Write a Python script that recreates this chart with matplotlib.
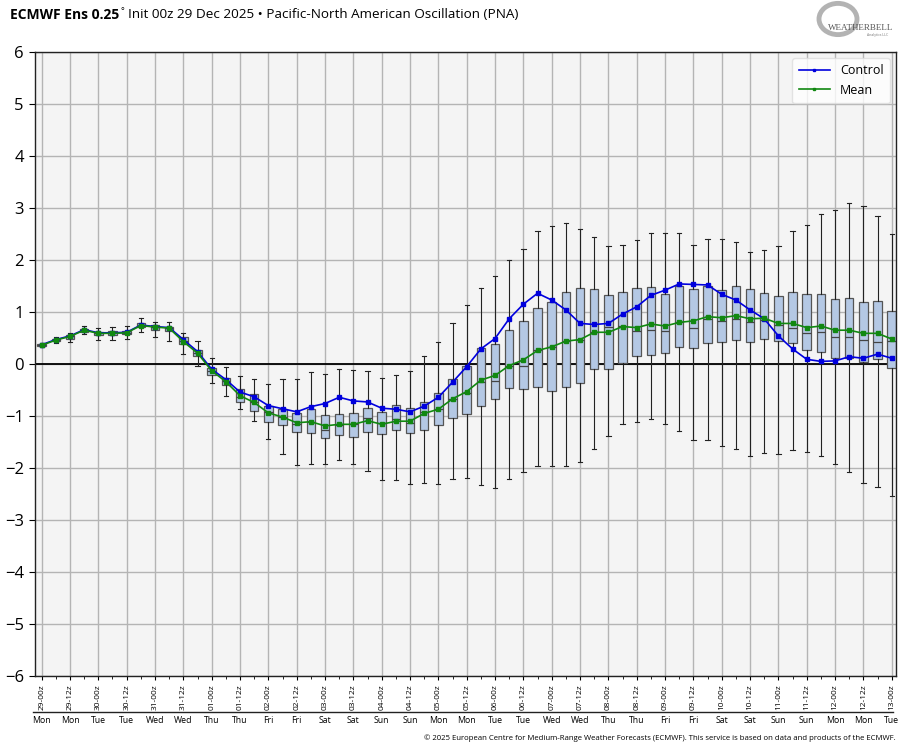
import numpy as np
import matplotlib
matplotlib.use("Agg")
import matplotlib.pyplot as plt
from matplotlib.lines import Line2D
from matplotlib.patches import Circle

# ensemble stats every 6 h from 29-00z to 13-00z
whis_lo = [0.33, 0.41, 0.43, 0.58, 0.47, 0.47, 0.49, 0.61, 0.51, 0.45,
           0.19, -0.04, -0.37, -0.62, -0.87, -1.10, -1.45, -1.73, -1.95, -1.92,
           -1.92, -1.85, -1.92, -2.06, -2.23, -2.23, -2.31, -2.29, -2.31, -2.22,
           -2.20, -2.33, -2.39, -2.22, -2.07, -1.96, -1.97, -1.96, -1.89, -1.64,
           -1.38, -1.16, -1.12, -1.05, -1.16, -1.28, -1.46, -1.46, -1.57, -1.64,
           -1.76, -1.72, -1.74, -1.66, -1.70, -1.76, -1.93, -2.07, -2.29, -2.37,
           -2.53]
q1 = [0.34, 0.44, 0.49, 0.62, 0.56, 0.55, 0.57, 0.71, 0.65, 0.64,
      0.38, 0.15, -0.21, -0.40, -0.74, -0.90, -1.11, -1.18, -1.31, -1.33,
      -1.43, -1.37, -1.41, -1.31, -1.35, -1.27, -1.32, -1.27, -1.18, -1.03,
      -0.97, -0.81, -0.67, -0.47, -0.49, -0.45, -0.52, -0.45, -0.37, -0.10,
      -0.10, 0.01, 0.15, 0.18, 0.22, 0.33, 0.31, 0.40, 0.43, 0.46,
      0.42, 0.49, 0.44, 0.41, 0.26, 0.24, 0.11, 0.11, 0.03, 0.09,
      -0.07]
med = [0.36, 0.46, 0.53, 0.65, 0.59, 0.59, 0.60, 0.74, 0.71, 0.69,
       0.44, 0.21, -0.14, -0.33, -0.63, -0.73, -0.92, -1.02, -1.16, -1.11,
       -1.27, -1.17, -1.16, -1.03, -1.14, -1.06, -1.13, -0.93, -0.87, -0.67,
       -0.56, -0.34, -0.33, -0.03, -0.04, 0.27, 0.33, 0.44, 0.47, 0.61,
       0.72, 0.74, 0.64, 0.65, 0.64, 0.80, 0.70, 0.86, 0.83, 0.87,
       0.80, 0.85, 0.75, 0.70, 0.59, 0.62, 0.52, 0.52, 0.46, 0.43,
       0.44]
q3 = [0.38, 0.48, 0.56, 0.68, 0.62, 0.63, 0.64, 0.78, 0.75, 0.72,
      0.51, 0.27, -0.08, -0.26, -0.49, -0.58, -0.81, -0.86, -0.95, -0.87,
      -0.99, -0.97, -0.95, -0.85, -0.93, -0.78, -0.85, -0.74, -0.56, -0.28,
      -0.04, 0.30, 0.38, 0.65, 0.83, 1.07, 1.20, 1.38, 1.46, 1.44,
      1.33, 1.39, 1.47, 1.49, 1.35, 1.50, 1.44, 1.50, 1.42, 1.50,
      1.44, 1.36, 1.30, 1.38, 1.34, 1.34, 1.25, 1.26, 1.19, 1.21,
      1.01]
whis_hi = [0.40, 0.51, 0.59, 0.73, 0.70, 0.71, 0.73, 0.89, 0.81, 0.80,
           0.59, 0.44, 0.11, -0.05, -0.24, -0.28, -0.38, -0.29, -0.29, -0.16,
           -0.20, -0.10, -0.12, -0.13, -0.26, -0.21, -0.14, 0.16, 0.43, 0.78,
           1.13, 1.47, 1.69, 2.00, 2.22, 2.56, 2.66, 2.71, 2.59, 2.45,
           2.27, 2.28, 2.38, 2.51, 2.51, 2.51, 2.29, 2.40, 2.40, 2.35,
           2.16, 2.19, 2.26, 2.56, 2.67, 2.88, 2.96, 3.09, 3.04, 2.85,
           2.50]
control = [0.37, 0.47, 0.54, 0.66, 0.60, 0.60, 0.61, 0.75, 0.72, 0.70,
           0.47, 0.24, -0.10, -0.30, -0.54, -0.63, -0.80, -0.86, -0.92, -0.82,
           -0.76, -0.64, -0.71, -0.73, -0.85, -0.87, -0.92, -0.81, -0.64, -0.35,
           -0.05, 0.29, 0.49, 0.87, 1.15, 1.36, 1.23, 1.04, 0.78, 0.76,
           0.78, 0.96, 1.10, 1.32, 1.42, 1.54, 1.53, 1.52, 1.34, 1.23,
           1.04, 0.87, 0.54, 0.29, 0.09, 0.05, 0.06, 0.14, 0.11, 0.19,
           0.11]
ens_mean = [0.36, 0.46, 0.53, 0.65, 0.59, 0.59, 0.60, 0.74, 0.71, 0.69,
            0.43, 0.21, -0.13, -0.34, -0.61, -0.74, -0.94, -1.02, -1.13, -1.11,
            -1.19, -1.16, -1.16, -1.09, -1.16, -1.10, -1.10, -0.95, -0.87, -0.67,
            -0.53, -0.31, -0.22, -0.03, 0.08, 0.26, 0.33, 0.44, 0.47, 0.61,
            0.61, 0.72, 0.70, 0.77, 0.73, 0.80, 0.83, 0.91, 0.89, 0.93,
            0.87, 0.88, 0.78, 0.78, 0.70, 0.73, 0.65, 0.65, 0.59, 0.59,
            0.48]

step_labels = ['29-00z', '29-12z', '30-00z', '30-12z', '31-00z', '31-12z',
               '01-00z', '01-12z', '02-00z', '02-12z', '03-00z', '03-12z',
               '04-00z', '04-12z', '05-00z', '05-12z', '06-00z', '06-12z',
               '07-00z', '07-12z', '08-00z', '08-12z', '09-00z', '09-12z',
               '10-00z', '10-12z', '11-00z', '11-12z', '12-00z', '12-12z',
               '13-00z']
day_labels = ['Mon', 'Mon', 'Tue', 'Tue', 'Wed', 'Wed', 'Thu', 'Thu', 'Fri',
              'Fri', 'Sat', 'Sat', 'Sun', 'Sun', 'Mon', 'Mon', 'Tue', 'Tue',
              'Wed', 'Wed', 'Thu', 'Thu', 'Fri', 'Fri', 'Sat', 'Sat', 'Sun',
              'Sun', 'Mon', 'Mon', 'Tue']

plt.rcParams['font.family'] = ['Open Sans', 'DejaVu Sans']

W, H = 913, 750
fig = plt.figure(figsize=(W / 100, H / 100), dpi=100)
ax = fig.add_axes([35 / W, 1 - 676 / H, (896 - 35) / W, 624 / H])
ax.set_facecolor('#f4f4f4')

x = np.arange(len(med))
stats = []
for i in x:
    stats.append({'whislo': whis_lo[i], 'q1': q1[i], 'med': med[i],
                  'q3': q3[i], 'whishi': whis_hi[i], 'fliers': []})

ax.axhline(0, color='black', lw=1.3, zorder=1.5)
ax.bxp(stats, positions=x, widths=0.6, patch_artist=True, showfliers=False,
       boxprops=dict(facecolor='#b4c8e4', edgecolor='#555555', lw=0.9),
       medianprops=dict(color='#444444', lw=0.9),
       whiskerprops=dict(color='#222222', lw=0.8),
       capprops=dict(color='#222222', lw=0.8), capwidths=0.3,
       manage_ticks=False, zorder=2)

ax.plot(x, control, color='#0000dd', lw=1.2, marker='s', ms=2.5,
        label='Control', zorder=3)
ax.plot(x, ens_mean, color='#118811', lw=1.2, marker='s', ms=2.5,
        label='Mean', zorder=3)

ax.set_xlim(-0.47, 60.3)
ax.set_ylim(-6, 6)
ax.set_yticks(range(-6, 7))
ax.tick_params(axis='y', labelsize=12, length=4, direction='out', pad=4)

ax.set_xticks(x[::2])
ax.set_xticklabels(step_labels, rotation=90, fontsize=6)
ax.set_xticks(x[1::2], minor=True)
ax.tick_params(axis='x', which='major', length=3, pad=3)
ax.tick_params(axis='x', which='minor', length=2)
ax.grid(True, axis='both', which='major', color='#b4b4b4', lw=1.0, zorder=0)
ax.set_axisbelow(True)
for s in ax.spines.values():
    s.set_color('#222222')
    s.set_linewidth(1.0)

# day names under a rule
fig.add_artist(Line2D([33 / W, 893 / W], [1 - 712 / H] * 2,
                      color='#222222', lw=1.0))
for i, d in zip(x[::2], day_labels):
    ax.text(i, -0.072, d, transform=ax.get_xaxis_transform(),
            ha='center', va='center', fontsize=6.3)

leg = ax.legend(loc='upper right', fontsize=9, frameon=True, fancybox=True,
                borderpad=0.5, handlelength=2.5, markerscale=0.8)
leg.get_frame().set_edgecolor('#dddddd')
leg.get_frame().set_facecolor('white')

# title in two pieces
t1 = fig.text(10 / W, 1 - 15 / H, 'ECMWF Ens 0.25', fontsize=10,
              fontweight='bold', va='center', ha='left')
fig.canvas.draw()
bb = t1.get_window_extent()
t2 = fig.text(bb.x1 / W + 0.001, 1 - 12 / H, '°', fontsize=6.5,
              va='center', ha='left')
fig.canvas.draw()
bb2 = t2.get_window_extent()
fig.text(bb2.x1 / W + 0.004, 1 - 15 / H,
         'Init 00z 29 Dec 2025 \u2022 Pacific-North American Oscillation (PNA)',
         fontsize=9.7, va='center', ha='left')

# logo
fig.add_artist(Circle((838 / W, 1 - 19 / H), 19 / W, transform=fig.transFigure,
                      fill=False, ec='#a0a0a0', lw=3.5, alpha=0.8))
fig.text(861 / W, 1 - 28 / H, 'WEATHERBELL', fontsize=6.5, color='#555555',
         ha='center', va='center', family='Liberation Serif')
fig.text(878 / W, 1 - 35 / H, 'Analytics LLC', fontsize=2.5, color='#777777',
         ha='center', va='center')

fig.text(896 / W, 1 - 738 / H,
         '\u00a9 2025 European Centre for Medium-Range Weather Forecasts (ECMWF). '
         'This service is based on data and products of the ECMWF.',
         fontsize=5.6, ha='right', va='center')

fig.savefig('out.png', dpi=100)
